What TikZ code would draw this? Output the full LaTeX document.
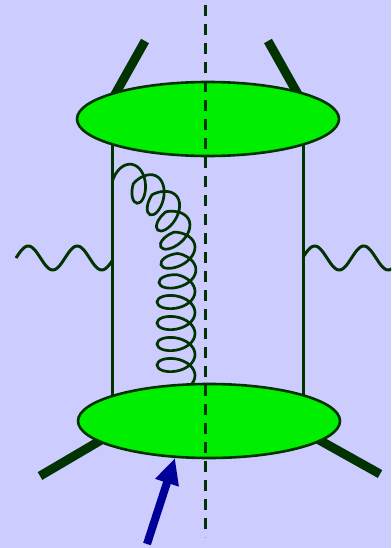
\documentclass[tikz,border=0pt]{standalone}
\usetikzlibrary{decorations.pathmorphing, arrows.meta}

\begin{document}
\begin{tikzpicture}[x=1pt, y=-1pt]

   %my colors
\definecolor{bgblue}{RGB}{204,204,255}
\definecolor{blobgreen}{RGB}{0,238,0}
\definecolor{darkgreen}{RGB}{0,51,0}
\definecolor{arrowblue}{RGB}{0,0,153}

    % Background (also fixes the margins)
    \fill[bgblue] (0,0) rectangle (391,548);
    \clip (0,0) rectangle (391,548);

    % Define the blob size and the two quark lines
    \def\blobw{131pt} % half width of a blob
    \def\blobh{37pt}  % half height of a blob
    \def\xl{112.5} % left quark line
    \def\xr{303} % right quark line
    \def\wk{7.347} % 360/wavelength of the photons

    \coordinate (top) at (208,119);
    \coordinate (bot) at (209,421);

    % External legs (drawn first, the blobs cover their ends)
    \draw[darkgreen, line width=9pt] (145,41) -- (113,98);
    \draw[darkgreen, line width=9pt] (268,41) -- (300,98);
    \draw[darkgreen, line width=9pt] (40,476) -- (108,436);
    \draw[darkgreen, line width=9pt] (380,474) -- (312,436);

    % Quark lines between the blobs
    \draw[darkgreen, line width=3pt] (\xl,140) -- (\xl,400);
    \draw[darkgreen, line width=3pt] (\xr,140) -- (\xr,400);

    % Photons
    \draw[darkgreen, line width=3pt, smooth] plot[domain=16:\xl, samples=60]
          (\x, {258 - 12*sin(\wk*(\x-16))});
    \draw[darkgreen, line width=3pt, smooth] plot[domain=\xr:395, samples=60]
          (\x, {258 - 12*sin(\wk*(\x-\xr+0.5))});

    % Gluon
    \draw[darkgreen, line width=2.7pt, decorate,
          decoration={coil, amplitude=19pt, segment length=21pt, aspect=0.6}]
          (\xl,181) .. controls (152,186) and (176,218) .. (176,266) -- (176,395);

    % Blobs
    \filldraw[fill=blobgreen, draw=darkgreen, line width=2.6pt] (top) ellipse [x radius=\blobw, y radius=\blobh];
    \filldraw[fill=blobgreen, draw=darkgreen, line width=2.6pt] (bot) ellipse [x radius=\blobw, y radius=\blobh];

    % Cut
    \draw[darkgreen, line width=3pt, dash pattern=on 11pt off 8pt] (205,5) -- (205,537);

    % Incoming arrow
    \draw[arrowblue, line width=8pt, -{Triangle[length=26pt, width=23pt]}] (147,544) -- (175,458);

\end{tikzpicture}
\end{document}
